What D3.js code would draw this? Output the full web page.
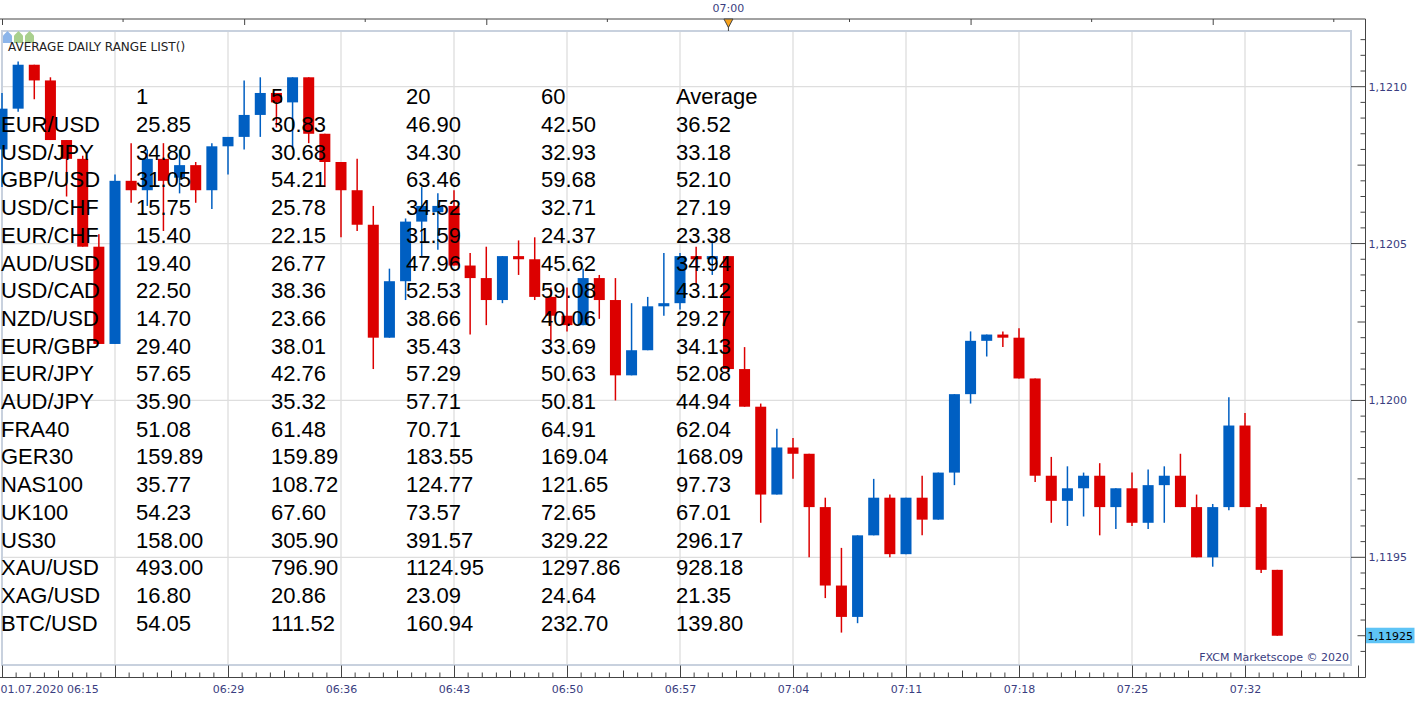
<!DOCTYPE html>
<html>
<head>
<meta charset="utf-8">
<script src="https://cdn.jsdelivr.net/npm/d3@7/dist/d3.min.js"></script>
<style>
body { margin: 0; background: #fff; }
svg { display: block; }
.axis text { font-family: "DejaVu Sans", Verdana, sans-serif; font-size: 11px; fill: #3a3d80; }
.axis line, .axis path { stroke: #444; }
.tbl { font-family: "Liberation Sans", Arial, sans-serif; font-size: 22px; fill: #000; }
</style>
</head>
<body>
<svg id="chart"></svg>
<script>
// chart data : 1 minute candles EUR/USD
var times = ["06:15","06:16","06:17","06:18","06:19","06:20","06:21","06:22","06:23","06:24",
  "06:25","06:26","06:27","06:28","06:29","06:30","06:31","06:32","06:33","06:34",
  "06:35","06:36","06:37","06:38","06:39","06:40","06:41","06:42","06:43","06:44",
  "06:45","06:46","06:47","06:48","06:49","06:50","06:51","06:52","06:53","06:54",
  "06:55","06:56","06:57","06:58","06:59","07:00","07:01","07:02","07:03","07:04",
  "07:05","07:06","07:07","07:08","07:09","07:10","07:11","07:12","07:13","07:14",
  "07:15","07:16","07:17","07:18","07:19","07:20","07:21","07:22","07:23","07:24",
  "07:25","07:26","07:27","07:28","07:29","07:30","07:31","07:32","07:33","07:34"];

var open = [1.12080,1.12093,1.12107,1.12102,1.12083,1.12077,1.12049,1.12018,1.12070,1.12067,
  1.12077,1.12071,1.12075,1.12067,1.12081,1.12084,1.12091,1.12098,1.12095,1.12103,
  1.12085,1.12076,1.12067,1.12056,1.12020,1.12038,1.12057,1.12060,1.12062,1.12043,
  1.12039,1.12032,1.12046,1.12045,1.12033,1.12027,1.12024,1.12039,1.12032,1.12008,
  1.12016,1.12030,1.12031,1.12046,1.12045,1.12046,1.12010,1.11998,1.11970,1.11985,
  1.11983,1.11966,1.11941,1.11931,1.11957,1.11969,1.11951,1.11969,1.11962,1.11977,
  1.12002,1.12019,1.12021,1.12020,1.12007,1.11976,1.11968,1.11972,1.11976,1.11966,
  1.11972,1.11961,1.11973,1.11976,1.11966,1.11950,1.11966,1.11992,1.11966,1.11946];

var high = [1.12098,1.12108,1.12107,1.12103,1.12083,1.12078,1.12053,1.12072,1.12082,1.12080,
  1.12082,1.12080,1.12076,1.12082,1.12084,1.12102,1.12103,1.12098,1.12103,1.12103,
  1.12085,1.12076,1.12077,1.12062,1.12042,1.12058,1.12068,1.12066,1.12067,1.12047,
  1.12049,1.12046,1.12051,1.12052,1.12036,1.12036,1.12042,1.12040,1.12039,1.12031,
  1.12033,1.12047,1.12047,1.12049,1.12051,1.12046,1.12017,1.11999,1.11991,1.11988,
  1.11983,1.11969,1.11953,1.11957,1.11975,1.11970,1.11969,1.11976,1.11977,1.12002,
  1.12022,1.12021,1.12022,1.12023,1.12007,1.11982,1.11979,1.11977,1.11980,1.11972,
  1.11977,1.11978,1.11979,1.11983,1.11970,1.11967,1.12001,1.11996,1.11967,1.11946];

var low = [1.12068,1.12092,1.12096,1.12083,1.12065,1.12049,1.12018,1.12018,1.12063,1.12062,
  1.12054,1.12066,1.12063,1.12061,1.12072,1.12080,1.12084,1.12087,1.12080,1.12082,
  1.12068,1.12052,1.12054,1.12010,1.12020,1.12032,1.12046,1.12048,1.12043,1.12021,
  1.12024,1.12031,1.12040,1.12032,1.12019,1.12022,1.12024,1.12026,1.12000,1.12008,
  1.12016,1.12027,1.12029,1.12037,1.12040,1.12009,1.11998,1.11961,1.11970,1.11975,
  1.11950,1.11937,1.11926,1.11929,1.11957,1.11950,1.11951,1.11957,1.11962,1.11973,
  1.11999,1.12014,1.12017,1.12007,1.11974,1.11961,1.11960,1.11963,1.11957,1.11959,
  1.11960,1.11959,1.11961,1.11966,1.11950,1.11947,1.11965,1.11966,1.11945,1.11925];

var close = [1.12093,1.12107,1.12102,1.12083,1.12077,1.12049,1.12018,1.12070,1.12067,1.12077,
  1.12070,1.12075,1.12067,1.12081,1.12084,1.12091,1.12098,1.12095,1.12103,1.12085,
  1.12076,1.12067,1.12056,1.12020,1.12038,1.12057,1.12062,1.12062,1.12043,1.12039,
  1.12032,1.12046,1.12045,1.12033,1.12027,1.12024,1.12039,1.12032,1.12008,1.12016,
  1.12030,1.12031,1.12046,1.12045,1.12046,1.12010,1.11998,1.11970,1.11985,1.11983,
  1.11966,1.11941,1.11931,1.11957,1.11969,1.11951,1.11969,1.11962,1.11977,1.12002,
  1.12019,1.12021,1.12020,1.12007,1.11976,1.11968,1.11972,1.11976,1.11966,1.11972,
  1.11961,1.11973,1.11976,1.11966,1.11950,1.11966,1.11992,1.11966,1.11946,1.11925];

var lastPrice = 1.11925;
var priceTicks = [1.1195, 1.1200, 1.1205, 1.1210];

// indicator table : AVERAGE DAILY RANGE LIST()
var columns = ["1", "5", "20", "60", "Average"];
var pairs = ["EUR/USD","USD/JPY","GBP/USD","USD/CHF","EUR/CHF","AUD/USD","USD/CAD","NZD/USD","EUR/GBP",
  "EUR/JPY","AUD/JPY","FRA40","GER30","NAS100","UK100","US30","XAU/USD","XAG/USD","BTC/USD"];
var adr1 = [25.85,34.80,31.05,15.75,15.40,19.40,22.50,14.70,29.40,57.65,35.90,51.08,159.89,35.77,54.23,158.00,493.00,16.80,54.05];
var adr5 = [30.83,30.68,54.21,25.78,22.15,26.77,38.36,23.66,38.01,42.76,35.32,61.48,159.89,108.72,67.60,305.90,796.90,20.86,111.52];
var adr20 = [46.90,34.30,63.46,34.52,31.59,47.96,52.53,38.66,35.43,57.29,57.71,70.71,183.55,124.77,73.57,391.57,1124.95,23.09,160.94];
var adr60 = [42.50,32.93,59.68,32.71,24.37,45.62,59.08,40.06,33.69,50.63,50.81,64.91,169.04,121.65,72.65,329.22,1297.86,24.64,232.70];
var adrAvg = [36.52,33.18,52.10,27.19,23.38,34.94,43.12,29.27,34.13,52.08,44.94,62.04,168.09,97.73,67.01,296.17,928.18,21.35,139.80];

// 表示サイズ
var size = { width: 1423, height: 703 };
var plot = { left: 2, top: 31, right: 1351, bottom: 665 };
var axisX = 1365.5, topAxisY = 19, bottomAxisY = 677.5;

var parseTime = d3.timeParse("%d.%m.%Y %H:%M");
var t = function(s){ return parseTime("01.07.2020 " + s); };

var data = times.map(function(s, i){
  return { date: t(s), o: open[i], h: high[i], l: low[i], c: close[i] };
});

var x = d3.scaleTime()
  .domain([t("06:15"), t("07:39")])
  .range([2, 1358]);

var y = d3.scaleLinear()
  .domain([1.1195, 1.1210])
  .range([557.3, 86.7]);

var svg = d3.select("#chart")
  .attr("width", size.width)
  .attr("height", size.height);

svg.append("rect").attr("width", size.width).attr("height", size.height).attr("fill", "#fff");

// grid
var majorTimes = d3.range(0, 13).map(function(k){ return d3.timeMinute.offset(t("06:15"), k * 7); });

svg.append("g").selectAll("line")
  .data(majorTimes.filter(function(d){ return x(d) > plot.left + 1 && x(d) < plot.right; }))
  .enter().append("line")
  .attr("x1", function(d){ return x(d); })
  .attr("x2", function(d){ return x(d); })
  .attr("y1", plot.top).attr("y2", plot.bottom)
  .attr("stroke", "#dedede").attr("stroke-width", 1.3);

svg.append("g").selectAll("line")
  .data(priceTicks)
  .enter().append("line")
  .attr("x1", plot.left).attr("x2", plot.right)
  .attr("y1", function(d){ return y(d); })
  .attr("y2", function(d){ return y(d); })
  .attr("stroke", "#dedede").attr("stroke-width", 1.3);

// plot frame
svg.append("rect")
  .attr("x", plot.left).attr("y", plot.top)
  .attr("width", plot.right - plot.left).attr("height", plot.bottom - plot.top)
  .attr("fill", "none").attr("stroke", "#c8d1de").attr("stroke-width", 2);

// candles
var candle = svg.append("g").selectAll("g")
  .data(data)
  .enter().append("g");

candle.append("line")
  .attr("x1", function(d){ return x(d.date); })
  .attr("x2", function(d){ return x(d.date); })
  .attr("y1", function(d){ return y(d.h); })
  .attr("y2", function(d){ return y(d.l); })
  .attr("stroke", function(d){ return d.c >= d.o ? "#005fc2" : "#dc0000"; })
  .attr("stroke-width", 1.5);

candle.append("rect")
  .attr("x", function(d){ return x(d.date) - 5.5; })
  .attr("width", 11)
  .attr("y", function(d){ return y(Math.max(d.o, d.c)); })
  .attr("height", function(d){ return Math.max(1.5, Math.abs(y(d.o) - y(d.c))); })
  .attr("fill", function(d){ return d.c >= d.o ? "#005fc2" : "#dc0000"; });

// indicator title + icons
var icons = [["#8cb5ea", 3], ["#a9d08e", 14], ["#a9d08e", 25]];
svg.append("g").selectAll("path")
  .data(icons)
  .enter().append("path")
  .attr("d", function(d){ var a = d[1]; return "M" + a + ",35.5L" + (a + 4.5) + ",31L" + (a + 9) + ",35.5L" + (a + 9) + ",43L" + a + ",43Z"; })
  .attr("fill", function(d){ return d[0]; });

svg.append("text")
  .attr("x", 8).attr("y", 51)
  .attr("font-family", "DejaVu Sans, Verdana, sans-serif")
  .attr("font-size", "12px")
  .attr("fill", "#222")
  .text("AVERAGE DAILY RANGE LIST()");

// table
var colX = function(k){ return 1 + 135 * k; };
var rowY = function(r){ return 104.3 + 27.7 * r; };
var fmt = d3.format(".2f");

var tbl = svg.append("g").attr("class", "tbl");
tbl.selectAll("text.head")
  .data(columns)
  .enter().append("text")
  .attr("class", "head")
  .attr("x", function(d, k){ return colX(k + 1); })
  .attr("y", rowY(0))
  .text(function(d){ return d; });

var rows = tbl.selectAll("g.row")
  .data(pairs)
  .enter().append("g")
  .attr("class", "row")
  .attr("transform", function(d, r){ return "translate(0," + rowY(r + 1) + ")"; });

rows.selectAll("text")
  .data(function(d, r){ return [d, fmt(adr1[r]), fmt(adr5[r]), fmt(adr20[r]), fmt(adr60[r]), fmt(adrAvg[r])]; })
  .enter().append("text")
  .attr("x", function(d, k){ return colX(k); })
  .text(function(d){ return d; });

// bottom axis
var xAxis = d3.axisBottom(x)
  .tickValues(majorTimes)
  .tickSizeInner(-12)
  .tickSizeOuter(0)
  .tickPadding(8)
  .tickFormat(function(d, i){
    if (i == 0) return "01.07.2020 06:15";
    if (i == 1 || i == majorTimes.length - 1) return "";
    return d3.timeFormat("%H:%M")(d);
  });

var gx = svg.append("g")
  .attr("class", "axis")
  .attr("transform", "translate(0," + bottomAxisY + ")")
  .call(xAxis);
gx.select(".domain").remove();
gx.select(".tick text").attr("text-anchor", "start").attr("dx", -2);

var minorX = d3.range(0, 97).filter(function(k){ return k % 8 != 0; })
  .map(function(k){ return new Date(+t("06:15") + k * 52500); });
gx.selectAll("line.minor")
  .data(minorX)
  .enter().append("line")
  .attr("class", "minor")
  .attr("x1", function(d){ return x(d); })
  .attr("x2", function(d){ return x(d); })
  .attr("y1", 0)
  .attr("y2", function(d, i){ return (i % 7 == 3) ? -7 : -5; });
gx.append("line").attr("x1", 0).attr("x2", axisX).attr("stroke", "#444");

// top axis
var topLong = d3.range(0, 6).map(function(k){ return d3.timeMinute.offset(t("06:15"), k * 15); });
var topShort = d3.range(0, 6).map(function(k){ return d3.timeMinute.offset(t("06:22"), k * 15 ).getTime() + 30000; });

var gt = svg.append("g")
  .attr("class", "axis")
  .attr("transform", "translate(0," + topAxisY + ")");
gt.call(d3.axisTop(x).tickValues(topLong).tickSizeInner(-6).tickSizeOuter(0).tickFormat(""));
gt.call(function(g){
  g.selectAll("line.short")
    .data(topShort)
    .enter().append("line")
    .attr("class", "short")
    .attr("x1", function(d){ return x(d); })
    .attr("x2", function(d){ return x(d); })
    .attr("y1", 0).attr("y2", 3);
});
gt.select(".domain").remove();
gt.append("line").attr("x1", 0).attr("x2", axisX).attr("stroke", "#444");

var now = t("07:00");
gt.append("text")
  .attr("x", x(now)).attr("y", -7)
  .attr("text-anchor", "middle")
  .text("07:00");
gt.append("line")
  .attr("x1", x(now)).attr("x2", x(now))
  .attr("y1", 0).attr("y2", 12)
  .attr("stroke", "#888");
gt.append("path")
  .attr("d", "M" + (x(now) - 4.5) + ",0L" + (x(now) + 4.5) + ",0L" + x(now) + ",8.5Z")
  .attr("fill", "#f7a21b");

// price axis
var gy = svg.append("g")
  .attr("class", "axis")
  .attr("transform", "translate(" + axisX + ",0)");

gy.call(d3.axisRight(y)
  .tickValues(priceTicks)
  .tickSize(0)
  .tickPadding(3)
  .tickFormat(function(d){ return d3.format(".4f")(d).replace(".", ","); }));
gy.select(".domain").remove();
gy.append("line").attr("y1", topAxisY).attr("y2", bottomAxisY).attr("stroke", "#444");

var priceMinor = d3.range(0, 60).map(function(k){ return +(1.1190 + k * 0.00005).toFixed(5); })
  .filter(function(d){ return y(d) > 30 && y(d) < 662; });
gy.selectAll("line.pt")
  .data(priceMinor)
  .enter().append("line")
  .attr("class", "pt")
  .attr("y1", function(d){ return y(d); })
  .attr("y2", function(d){ return y(d); })
  .attr("x1", function(d){
    var u = Math.round(d * 100000) % 50;
    if (u == 0) return plot.right - axisX;
    if (u == 25) return -8;
    return -5;
  })
  .attr("x2", 0);

// last price label
var lp = gy.append("g").attr("transform", "translate(0," + y(lastPrice) + ")");
lp.append("rect").attr("x", 0.5).attr("y", -8).attr("width", 48.5).attr("height", 15.5).attr("fill", "#5ec4f6");
lp.append("text").attr("x", 2).attr("y", 4).style("fill", "#000").text(d3.format(".5f")(lastPrice).replace(".", ","));

// copyright
svg.append("text")
  .attr("x", plot.right - 2).attr("y", 661)
  .attr("text-anchor", "end")
  .attr("font-family", "DejaVu Sans, Verdana, sans-serif")
  .attr("font-size", "11px")
  .attr("fill", "#3a3d80")
  .text("FXCM Marketscope \u00a9 2020");
</script>
</body>
</html>
